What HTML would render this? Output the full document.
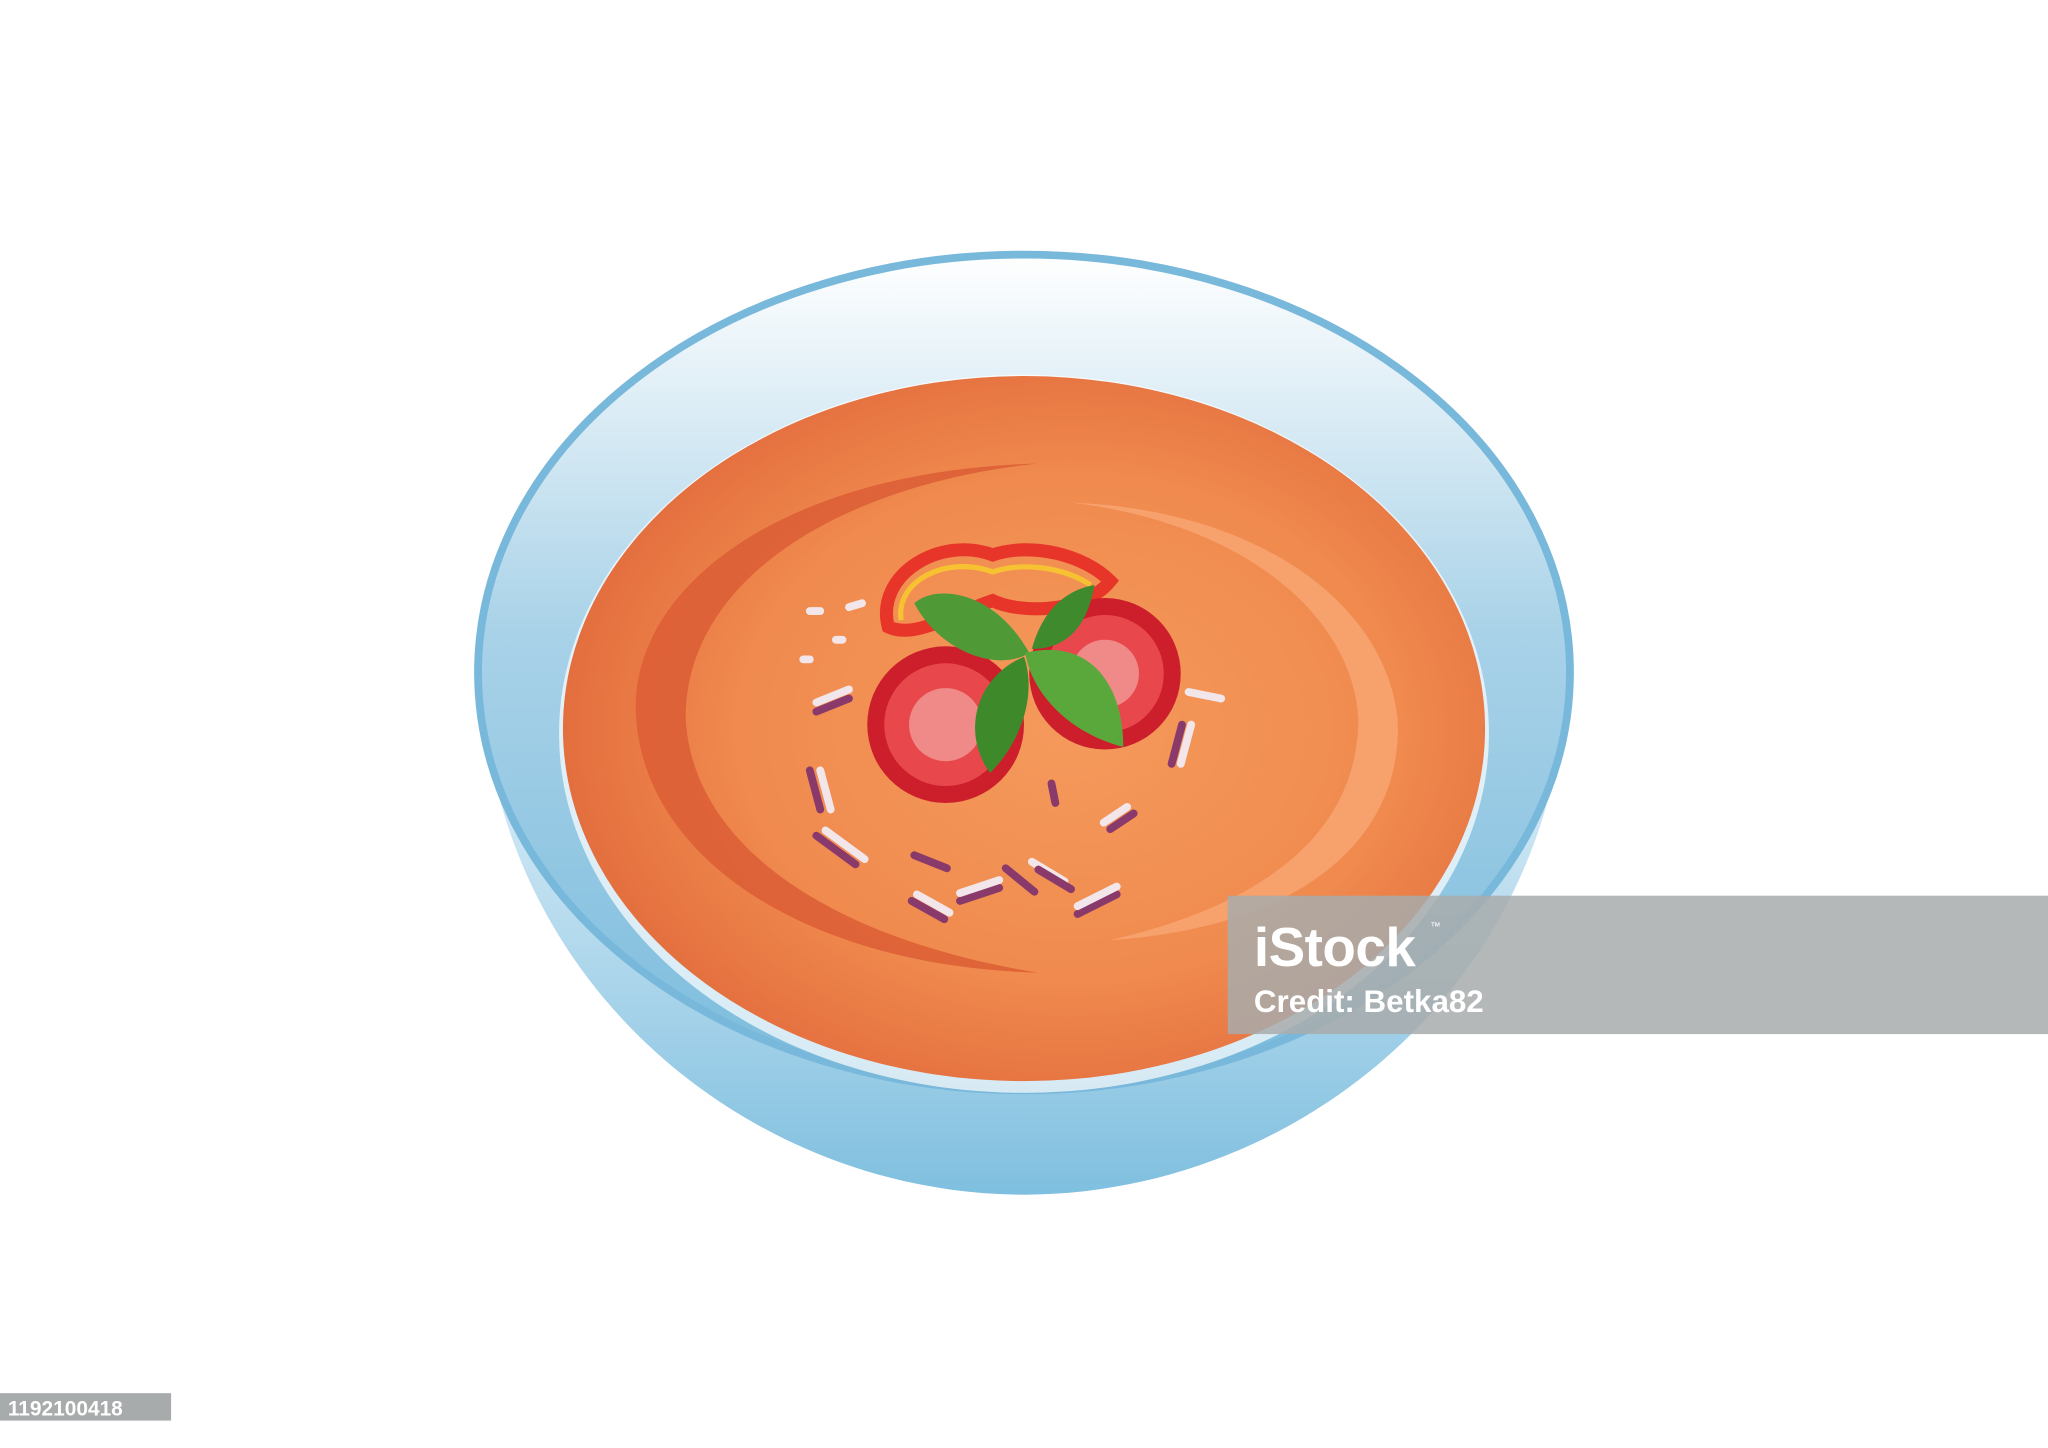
<!DOCTYPE html>
<html><head><meta charset="utf-8"><style>
html,body{margin:0;padding:0;background:#fff;width:2048px;height:1448px;overflow:hidden}
svg{display:block}
</style></head><body>
<svg width="2048" height="1448" viewBox="0 0 1568 1109" preserveAspectRatio="none" xmlns="http://www.w3.org/2000/svg">
<defs>
<linearGradient id="rimG" x1="0" y1="0" x2="0" y2="1">
<stop offset="0" stop-color="#ffffff"/><stop offset="0.45" stop-color="#a9d2e8"/><stop offset="1" stop-color="#7bbcdd"/></linearGradient>
<linearGradient id="bodyG" x1="0" y1="0" x2="0" y2="1">
<stop offset="0" stop-color="#e8f4fb"/><stop offset="1" stop-color="#7fbfdf"/></linearGradient>
<radialGradient id="soupG" cx="0.55" cy="0.5" r="0.6">
<stop offset="0" stop-color="#f59a5c"/><stop offset="0.6" stop-color="#f08a4e"/><stop offset="1" stop-color="#e0673a"/></radialGradient>
</defs>
<rect x="0" y="0" width="1568" height="1109" fill="#fff"/>
<g>
<path d="M368,520 C380,760 580,915 784,915 C988,915 1188,760 1200,520 Z" fill="url(#bodyG)"/>
<ellipse cx="784" cy="515" rx="418" ry="320" fill="url(#rimG)" stroke="#78b8da" stroke-width="6"/>
<ellipse cx="784" cy="562" rx="356" ry="275" fill="#fff" opacity="0.7"/>
</g>
<g>
<ellipse cx="784" cy="558" rx="353" ry="270" fill="url(#soupG)"/>
<path d="M795,355 C600,360 480,450 487,550 C495,660 620,740 795,745 C640,720 530,650 525,550 C525,440 650,370 795,355 Z" fill="#dc5d35" opacity="0.85"/>
<path d="M820,385 C960,390 1060,460 1070,550 C1075,640 1000,710 850,720 C980,690 1040,630 1040,550 C1035,470 950,400 820,385 Z" fill="#f8a572" opacity="0.85"/>
</g>
<g>
<g stroke-width="6" stroke-linecap="round">
<path d="M620,590 l8,30" stroke="#8a3a6a"/><path d="M628,590 l8,30" stroke="#f2e6ea"/>
<path d="M625,640 l30,22" stroke="#8a3a6a"/><path d="M632,636 l30,22" stroke="#f2e6ea"/>
<path d="M700,655 l25,10" stroke="#8a3a6a"/><path d="M698,690 l25,14" stroke="#8a3a6a"/><path d="M702,685 l25,14" stroke="#f2e6ea"/>
<path d="M735,690 l30,-10" stroke="#8a3a6a"/><path d="M735,684 l30,-10" stroke="#f2e6ea"/>
<path d="M770,665 l22,18" stroke="#8a3a6a"/><path d="M790,660 l25,15" stroke="#f2e6ea"/><path d="M795,666 l25,15" stroke="#8a3a6a"/>
<path d="M825,700 l30,-15" stroke="#8a3a6a"/><path d="M825,694 l30,-15" stroke="#f2e6ea"/>
<path d="M850,635 l18,-12" stroke="#8a3a6a"/><path d="M845,630 l18,-12" stroke="#f2e6ea"/>
<path d="M625,545 l25,-10" stroke="#8a3a6a"/><path d="M625,538 l25,-10" stroke="#f2e6ea"/>
<path d="M905,555 l-8,30" stroke="#8a3a6a"/><path d="M912,555 l-8,30" stroke="#f2e6ea"/>
<path d="M910,530 l25,5" stroke="#f2e6ea"/><path d="M620,468 l8,0" stroke="#f2e6ea"/><path d="M640,490 l5,0" stroke="#f2e6ea"/>
<path d="M615,505 l5,0" stroke="#f2e6ea"/><path d="M805,600 l3,15" stroke="#8a3a6a"/><path d="M650,465 l10,-3" stroke="#f2e6ea"/>
</g>
<path d="M680,480 C670,440 720,410 760,425 C790,415 830,425 850,445 C830,470 780,470 760,460 C730,470 700,490 680,480 Z" fill="none" stroke="#e8352a" stroke-width="10"/>
<path d="M690,475 C685,445 725,425 760,438 C785,430 815,435 835,448" fill="none" stroke="#f6c232" stroke-width="4"/>
<g>
<circle cx="724" cy="555" r="60" fill="#cc1f2b"/><circle cx="724" cy="555" r="47" fill="#e8484c"/>
<circle cx="724" cy="555" r="28" fill="#f08a88"/>
</g>
<g>
<circle cx="846" cy="516" r="58" fill="#cc1f2b"/><circle cx="846" cy="516" r="45" fill="#e8484c"/>
<circle cx="846" cy="516" r="26" fill="#f08a88"/>
</g>
<g>
<path d="M788,500 C760,450 715,448 700,462 C720,500 765,515 788,500 Z" fill="#4f9a36"/>
<path d="M790,497 C798,468 815,452 838,448 C832,482 815,497 790,497 Z" fill="#3f8a2c"/>
<path d="M785,500 C835,488 860,525 860,572 C820,562 790,532 785,500 Z" fill="#5aa83c"/>
<path d="M784,503 C748,518 735,560 758,592 C782,568 794,532 784,503 Z" fill="#3e8a2b"/>
</g>
</g>
<g>
<rect x="940" y="686" width="628" height="106" fill="#a8abab" opacity="0.85"/>
<text x="960" y="740" font-family="Liberation Sans, sans-serif" font-weight="bold" font-size="42" fill="#fff" textLength="124">iStock</text>
<text x="1095" y="712" font-family="Liberation Sans, sans-serif" font-size="8" fill="#fff">™</text>
<text x="960" y="775" font-family="Liberation Sans, sans-serif" font-weight="bold" font-size="24" fill="#fff">Credit: Betka82</text>
</g>
<g>
<rect x="0" y="1067" width="131" height="21" fill="#a8abab"/>
<text x="6" y="1084" font-family="Liberation Sans, sans-serif" font-weight="bold" font-size="16" fill="#fff">1192100418</text>
</g>
</svg>
</body></html>
